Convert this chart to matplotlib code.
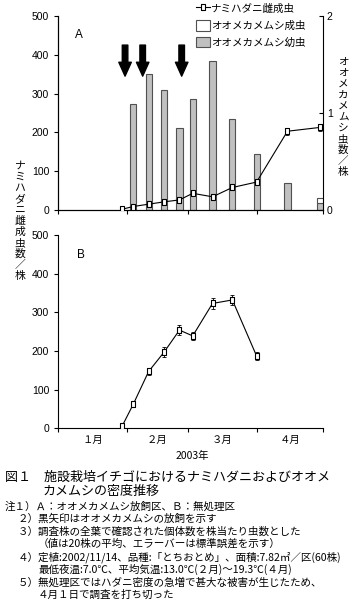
import matplotlib
matplotlib.use("Agg")
import matplotlib.pyplot as plt
from matplotlib.lines import Line2D
from matplotlib.patches import Patch

plt.rcParams["font.family"] = ["Noto Sans CJK JP", "DejaVu Sans"]

# days counted from 2003-01-01
dates = [29, 34, 41, 48, 55, 61, 70, 79, 90, 104, 119]

# panel A : release plot
mite_a = [2, 9, 15, 21, 26, 43, 34, 58, 72, 203, 213]
mite_a_err = [1, 2, 3, 3, 4, 5, 4, 5, 6, 9, 9]
bug_dates = dates[1:]
nymph_a = [1.09, 1.40, 1.24, 0.85, 1.14, 1.54, 0.94, 0.58, 0.28, 0.07]
adult_a = [0, 0, 0, 0, 0, 0, 0, 0, 0, 0.05]
release_dates = [30.3, 38.3, 56.0]

# panel B : untreated plot
dates_b = dates[:9]
mite_b = [6, 62, 147, 197, 254, 239, 323, 332, 187]
mite_b_err = [3, 6, 10, 13, 12, 10, 14, 13, 11]

month_edges = [0, 31, 59, 90, 120]
month_mids = [15.5, 45, 74.5, 105]
month_labels = ["１月", "２月", "３月", "４月"]

legend_labels = ["ナミハダニ雌成虫", "オオメカメムシ成虫", "オオメカメムシ幼虫"]

notes = [
    (5, 506.7, "注１）Ａ：オオメカメムシ放飼区、Ｂ：無処理区"),
    (18, 519, "２）黒矢印はオオメカメムシの放飼を示す"),
    (18, 531.5, "３）調査株の全葉で確認された個体数を株当たり虫数とした"),
    (38, 544, "（値は20株の平均、エラーバーは標準誤差を示す）"),
    (18, 557, "４）定植:2002/11/14、品種:「とちおとめ」、面積:7.82㎡／区(60株)"),
    (38, 569.5, "最低夜温:7.0℃、平均気温:13.0℃(２月)～19.3℃(４月)"),
    (18, 582.5, "５）無処理区ではハダニ密度の急増で甚大な被害が生じたため、"),
    (38, 595, "４月１日で調査を打ち切った"),
]

W, H = 357, 610
rect = [(-0.5, -1), (0.5, -1), (0.5, 1), (-0.5, 1), (-0.5, -1)]
GRAY = "#c0c0c0"
EDGE = "#505050"
TICKFONT = dict(family="Liberation Sans", size=7.5)


def style_axis(ax):

    ax.set_xlim(0, 120)
    ax.set_ylim(0, 500)
    ax.set_yticks([0, 100, 200, 300, 400, 500])
    ax.set_xticks(month_edges)
    ax.set_xticklabels([])
    ax.spines["top"].set_visible(False)
    ax.spines["right"].set_visible(False)
    for s in ax.spines.values():
        s.set_linewidth(0.8)
    ax.tick_params(axis="both", which="major", direction="out",
                   length=3, width=0.8)
    for lab in ax.get_yticklabels():
        lab.set_fontfamily(TICKFONT["family"])
        lab.set_fontsize(TICKFONT["size"])


def draw_mites(ax, x, y, err):

    ax.errorbar(x, y, yerr=err, fmt="none", ecolor="black",
                elinewidth=0.6, capsize=1.2, capthick=0.6, zorder=3)
    ax.plot(x, y, color="black", lw=0.8, marker=rect, markersize=5,
            markerfacecolor="white", markeredgecolor="black",
            markeredgewidth=0.8, zorder=4)


fig = plt.figure(figsize=(W / 100, H / 100), dpi=100)

left = 58.3 / W
width = (322.7 - 58.3) / W

# panel A
ax_a = fig.add_axes([left, 1 - 210 / H, width, 194 / H])
ax_b2 = ax_a.twinx()
ax_a.set_zorder(ax_b2.get_zorder() + 1)
ax_a.patch.set_visible(False)

ax_b2.bar(bug_dates, nymph_a, width=2.8, color=GRAY,
          edgecolor=EDGE, linewidth=0.8)
ax_b2.bar(bug_dates[-1:], adult_a[-1:], bottom=nymph_a[-1:], width=2.8,
          color="white", edgecolor=EDGE, linewidth=0.8)
ax_b2.set_ylim(0, 2)
ax_b2.set_yticks([0, 1, 2])
ax_b2.spines["top"].set_visible(False)
ax_b2.spines["right"].set_linewidth(0.8)
ax_b2.tick_params(axis="y", direction="in", length=3, width=0.8, pad=3)
for lab in ax_b2.get_yticklabels():
    lab.set_fontfamily(TICKFONT["family"])
    lab.set_fontsize(TICKFONT["size"])

style_axis(ax_a)
draw_mites(ax_a, dates, mite_a, mite_a_err)

for d in release_dates:
    ax_a.annotate(
        "", xy=(d, 345), xytext=(d, 425),
        arrowprops=dict(
            arrowstyle="simple,head_length=1.0,head_width=0.9,tail_width=0.4",
            color="black", shrinkA=0, shrinkB=0,
        ),
    )

ax_a.text(7.5, 443, "A", fontsize=8.5, family="Liberation Sans")

# panel B
ax_b = fig.add_axes([left, 1 - 428.3 / H, width, 193.3 / H])
style_axis(ax_b)
draw_mites(ax_b, dates_b, mite_b, mite_b_err)
ax_b.set_xticks(month_mids, minor=True)
ax_b.set_xticklabels(month_labels, minor=True, fontsize=7.5)
ax_b.tick_params(axis="x", which="minor", length=0, pad=5)
ax_b.text(8.5, 440, "B", fontsize=8.5, family="Liberation Sans")

fig.text(192 / W, 1 - 456 / H, "2003年", ha="center", va="center",
         fontsize=7.5)

# legend
handles = [
    Line2D([], [], color="black", lw=0.8, marker=rect, markersize=5,
           markerfacecolor="white", markeredgecolor="black",
           markeredgewidth=0.8),
    Patch(facecolor="white", edgecolor=EDGE, linewidth=0.8),
    Patch(facecolor=GRAY, edgecolor=EDGE, linewidth=0.8),
]
fig.legend(handles, legend_labels, loc="upper left",
           bbox_to_anchor=(196 / W, 1 - 3 / H), frameon=False,
           fontsize=7.6, handlelength=1.3, handleheight=1.2,
           handletextpad=0.1, labelspacing=0.55, borderpad=0,
           borderaxespad=0)

# vertical axis titles
fig.text(20 / W, 1 - 221 / H, "\n".join("ナミハダニ雌成虫数／株"),
         ha="center", va="center", fontsize=7.8, linespacing=1.12)
fig.text(343 / W, 1 - 117 / H, "\n".join("オオメカメムシ虫数／株"),
         ha="center", va="center", fontsize=7.6, linespacing=1.12)

# caption and notes
fig.text(5 / W, 1 - 476.7 / H,
         "図１　施設栽培イチゴにおけるナミハダニおよびオオメ",
         ha="left", va="center", fontsize=9.4)
fig.text(43 / W, 1 - 491.7 / H, "カメムシの密度推移",
         ha="left", va="center", fontsize=9.4)
for x, y, s in notes:
    fig.text(x / W, 1 - y / H, s, ha="left", va="center", fontsize=7.6)

fig.savefig("out.png", dpi=100)
